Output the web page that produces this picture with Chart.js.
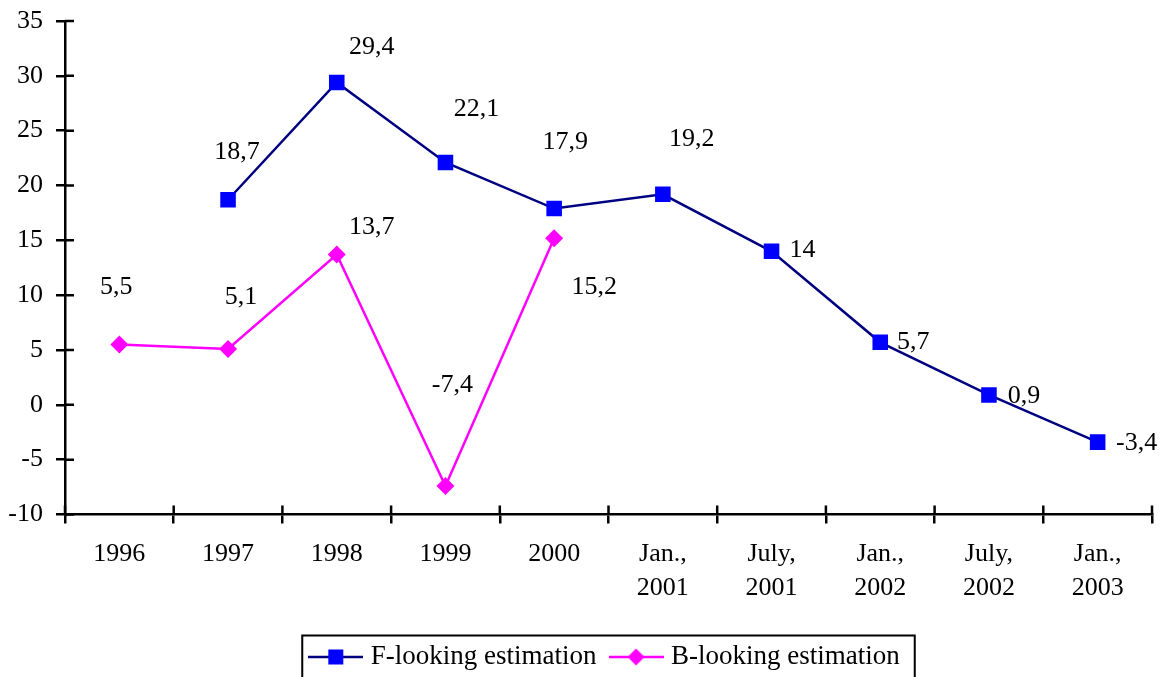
<!DOCTYPE html>
<html>
<head>
<meta charset="utf-8">
<script src="https://cdn.jsdelivr.net/npm/chart.js@4/dist/chart.umd.min.js"></script>
<style>
  html, body { margin: 0; padding: 0; background: #ffffff; }
  #wrap { width: 1165px; height: 677px; position: relative; }
</style>
</head>
<body>
<div id="wrap"><canvas id="c" width="1165" height="677"></canvas></div>
<script>
// ---- data ----
const categories = ['1996', '1997', '1998', '1999', '2000',
  ['Jan.,', '2001'], ['July,', '2001'], ['Jan.,', '2002'], ['July,', '2002'], ['Jan.,', '2003']];
const fLooking = [null, 18.7, 29.4, 22.1, 17.9, 19.2, 14, 5.7, 0.9, -3.4];
const bLooking = [5.5, 5.1, 13.7, -7.4, 15.2, null, null, null, null, null];
const yTicksMin = -10, yTicksMax = 35, yTicksStep = 5;

// ---- label placement (pixel offsets from the point) ----
const fLabelOffsets = [null, [9, -48], [35, -35], [31, -53], [11, -66], [29, -55], [31, -1], [33, 0], [35, 1], [39, 1]];
const bLabelOffsets = [[-3, -57], [13, -52], [35, -27], [7, -101], [40, 49], null, null, null, null, null];

const FONT = 'Liberation Serif, "Times New Roman", serif';
Chart.defaults.font.family = FONT;
Chart.defaults.font.size = 26;
Chart.defaults.color = '#000';

function legendSymbol(lineColor, fillColor, shape) {
  const c = document.createElement('canvas');
  c.width = 55; c.height = 18;
  const g = c.getContext('2d');
  g.strokeStyle = lineColor; g.lineWidth = 2.5;
  g.beginPath(); g.moveTo(0, 9); g.lineTo(55, 9); g.stroke();
  g.fillStyle = fillColor;
  if (shape === 'rect') {
    g.fillRect(27.5 - 7.5, 9 - 7.5, 15, 15);
  } else {
    g.beginPath();
    g.moveTo(27.5, 0.5); g.lineTo(36, 9); g.lineTo(27.5, 17.5); g.lineTo(19, 9); g.closePath(); g.fill();
  }
  return c;
}
const fSym = legendSymbol('#000080', '#0000ff', 'rect');
const bSym = legendSymbol('#ff00ff', '#ff00ff', 'diamond');

const fmt = v => String(v).replace('.', ',');

const decorPlugin = {
  id: 'decor',
  afterLayout(chart) {
    chart.legend.left += 31;
    chart.legend.right += 31;
  },
  afterDraw(chart) {
    const ctx = chart.ctx;
    const x = chart.scales.x, y = chart.scales.y;
    const area = chart.chartArea;
    ctx.save();
    ctx.strokeStyle = '#000';
    ctx.lineWidth = 2.5;
    // inner halves of the crossing tick marks
    ctx.beginPath();
    y.ticks.forEach(t => {
      const py = y.getPixelForValue(t.value);
      ctx.moveTo(area.left, py); ctx.lineTo(area.left + 9, py);
    });
    for (let i = 0; i <= categories.length; i++) {
      const px = x.getPixelForValue(i - 0.5);
      ctx.moveTo(px, area.bottom); ctx.lineTo(px, area.bottom - 9);
    }
    ctx.stroke();
    // data labels
    ctx.fillStyle = '#000';
    ctx.font = '26px ' + FONT;
    ctx.textAlign = 'center';
    ctx.textBaseline = 'middle';
    const offs = [fLabelOffsets, bLabelOffsets];
    chart.data.datasets.forEach((ds, di) => {
      const meta = chart.getDatasetMeta(di);
      meta.data.forEach((el, i) => {
        const v = ds.data[i];
        if (v === null || v === undefined) return;
        const o = offs[di][i] || [0, -30];
        ctx.fillText(fmt(v), el.x + o[0], el.y + o[1]);
      });
    });
    // legend frame
    const lg = chart.legend;
    if (lg && lg.legendHitBoxes && lg.legendHitBoxes.length) {
      let l = Infinity, r = -Infinity;
      lg.legendHitBoxes.forEach(b => { l = Math.min(l, b.left); r = Math.max(r, b.left + b.width); });
      ctx.lineWidth = 2;
      ctx.strokeRect(l - 12, lg.top + 10, (r - l) + 12 + 15, 60);
    }
    ctx.restore();
  }
};

new Chart(document.getElementById('c'), {
  type: 'line',
  data: {
    labels: categories,
    datasets: [
      {
        label: 'F-looking estimation',
        data: fLooking,
        borderColor: '#000080',
        borderWidth: 2.5,
        backgroundColor: '#0000ff',
        pointStyle: 'rect',
        pointRadius: 11,
        pointBackgroundColor: '#0000ff',
        pointBorderColor: '#0000ff',
        pointBorderWidth: 0,
        pointHoverRadius: 11,
        tension: 0,
        spanGaps: false
      },
      {
        label: 'B-looking estimation',
        data: bLooking,
        borderColor: '#ff00ff',
        borderWidth: 2.5,
        backgroundColor: '#ff00ff',
        pointStyle: 'rectRot',
        pointRadius: 9,
        pointBackgroundColor: '#ff00ff',
        pointBorderColor: '#ff00ff',
        pointBorderWidth: 0,
        pointHoverRadius: 9,
        tension: 0,
        spanGaps: false
      }
    ]
  },
  options: {
    responsive: false,
    animation: false,
    events: [],
    layout: { padding: { left: 0, right: 13, top: 21, bottom: -3.5 } },
    plugins: {
      tooltip: { enabled: false },
      title: { display: false },
      legend: {
        display: true,
        position: 'bottom',
        labels: {
          usePointStyle: true,
          pointStyleWidth: 43,
          padding: 18,
          color: '#000',
          font: { size: 27, family: FONT },
          generateLabels(chart) {
            return chart.data.datasets.map((ds, i) => ({
              text: ds.label,
              pointStyle: i === 0 ? fSym : bSym,
              fillStyle: 'transparent',
              strokeStyle: 'transparent',
              lineWidth: 0,
              hidden: false,
              datasetIndex: i,
              fontColor: '#000'
            }));
          }
        }
      }
    },
    scales: {
      x: {
        type: 'category',
        offset: true,
        afterFit(scale) { scale.height = 111; scale.paddingLeft = 0; scale.paddingRight = 0; },
        grid: {
          display: true,
          offset: true,
          drawOnChartArea: false,
          drawTicks: true,
          tickLength: 9,
          color: '#000',
          lineWidth: 2.5
        },
        border: { display: true, color: '#000', width: 2.5 },
        ticks: {
          maxRotation: 0,
          autoSkip: false,
          padding: 14,
          color: '#000',
          font: { size: 26, family: FONT, lineHeight: 1.3 }
        }
      },
      y: {
        type: 'linear',
        min: yTicksMin,
        max: yTicksMax,
        afterFit(scale) { scale.width = 65; scale.paddingTop = 0; scale.paddingBottom = 0; },
        grid: {
          display: true,
          drawOnChartArea: false,
          drawTicks: true,
          tickLength: 9,
          color: '#000',
          lineWidth: 2.5
        },
        border: { display: true, color: '#000', width: 2.5 },
        ticks: {
          stepSize: yTicksStep,
          padding: 13,
          color: '#000',
          font: { size: 26, family: FONT }
        }
      }
    }
  },
  plugins: [decorPlugin]
});
</script>
</body>
</html>
